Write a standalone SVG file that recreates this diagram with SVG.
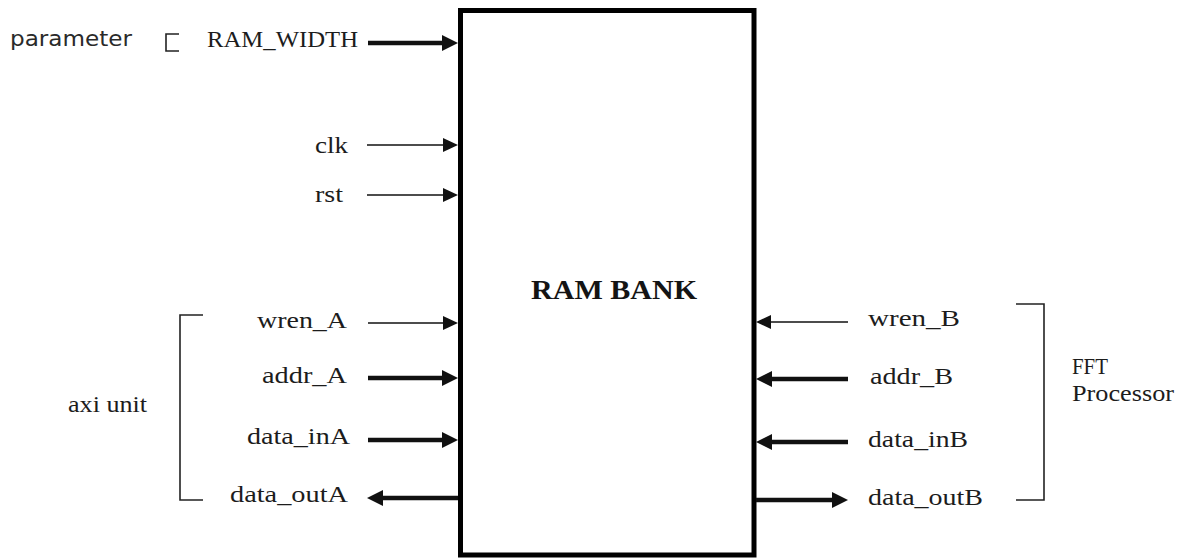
<svg xmlns="http://www.w3.org/2000/svg" width="1179" height="558" viewBox="0 0 1179 558">
<style>
.lbl{font-family:"Liberation Serif","Times New Roman",serif;font-size:24px;fill:#1c1c1c}
.sm{font-size:23px}
.sans{font-family:"DejaVu Sans","Noto Sans",sans-serif;font-size:22px;fill:#2a2a2a}
.title{font-family:"Liberation Serif","Times New Roman",serif;font-size:28px;font-weight:bold;fill:#141414}
.thin{stroke:#111;stroke-width:1.6;fill:none}
.thick{stroke:#111;stroke-width:4.5;fill:none}
.brk{stroke:#222;stroke-width:1.6;fill:none}
</style>
<defs>
<marker id="ahThick" markerUnits="userSpaceOnUse" viewBox="0 0 16 16" refX="4" refY="8" markerWidth="16" markerHeight="16" orient="auto"><path d="M0,0 L16,8 L0,16 z" fill="#111"/></marker>
<marker id="ahThin" markerUnits="userSpaceOnUse" viewBox="0 0 15 14" refX="4" refY="7" markerWidth="15" markerHeight="14" orient="auto"><path d="M0,0 L15,7 L0,14 z" fill="#111"/></marker>
</defs>
<rect width="1179" height="558" fill="#fff"/>

<g id="ram_bank">
<rect x="460.5" y="10.5" width="293.5" height="544.5" fill="#fff" stroke="#000" stroke-width="5"/>
<text class="title" x="531" y="299" textLength="166" lengthAdjust="spacingAndGlyphs">RAM BANK</text>
</g>

<g id="parameter">
<text class="sans" x="10" y="46" textLength="122" lengthAdjust="spacingAndGlyphs">parameter</text>
<polyline class="brk" points="179,34 166,34 166,51 179,51"/>
</g>

<g id="axi_unit">
<polyline class="brk" points="203,315 180,315 180,500 203,500"/>
<text class="lbl" x="68" y="412" textLength="79" lengthAdjust="spacingAndGlyphs">axi unit</text>
</g>

<g id="fft_processor">
<polyline class="brk" points="1016,304 1044,304 1044,500 1016,500"/>
<text class="lbl sm" x="1072" y="374" textLength="36" lengthAdjust="spacingAndGlyphs">FFT</text>
<text class="lbl sm" x="1072" y="401" textLength="102" lengthAdjust="spacingAndGlyphs">Processor</text>
</g>

<g id="port_labels">
<text class="lbl" x="207" y="47" textLength="151" lengthAdjust="spacingAndGlyphs">RAM_WIDTH</text>
<text class="lbl" x="315" y="153" textLength="33" lengthAdjust="spacingAndGlyphs">clk</text>
<text class="lbl" x="315" y="202" textLength="28" lengthAdjust="spacingAndGlyphs">rst</text>
<text class="lbl" x="257" y="328" textLength="90" lengthAdjust="spacingAndGlyphs">wren_A</text>
<text class="lbl" x="262" y="383" textLength="85" lengthAdjust="spacingAndGlyphs">addr_A</text>
<text class="lbl" x="247" y="444" textLength="103" lengthAdjust="spacingAndGlyphs">data_inA</text>
<text class="lbl" x="230" y="502" textLength="118" lengthAdjust="spacingAndGlyphs">data_outA</text>
<text class="lbl" x="868" y="326" textLength="92" lengthAdjust="spacingAndGlyphs">wren_B</text>
<text class="lbl" x="870" y="384" textLength="83" lengthAdjust="spacingAndGlyphs">addr_B</text>
<text class="lbl" x="868" y="447" textLength="100" lengthAdjust="spacingAndGlyphs">data_inB</text>
<text class="lbl" x="868" y="505" textLength="115" lengthAdjust="spacingAndGlyphs">data_outB</text>
</g>

<g id="connectors">
<line class="thick" x1="368" y1="43" x2="446" y2="43" marker-end="url(#ahThick)"/>
<line class="thin" x1="367" y1="145" x2="447" y2="145" marker-end="url(#ahThin)"/>
<line class="thin" x1="367" y1="195" x2="447" y2="195" marker-end="url(#ahThin)"/>
<line class="thin" x1="368" y1="323" x2="447" y2="323" marker-end="url(#ahThin)"/>
<line class="thick" x1="368" y1="378" x2="446" y2="378" marker-end="url(#ahThick)"/>
<line class="thick" x1="368" y1="440" x2="446" y2="440" marker-end="url(#ahThick)"/>
<line class="thick" x1="458" y1="498" x2="379" y2="498" marker-end="url(#ahThick)"/>
<line class="thin" x1="848" y1="322" x2="767" y2="322" marker-end="url(#ahThin)"/>
<line class="thick" x1="848" y1="379" x2="768" y2="379" marker-end="url(#ahThick)"/>
<line class="thick" x1="848" y1="442" x2="768" y2="442" marker-end="url(#ahThick)"/>
<line class="thick" x1="756" y1="500" x2="836" y2="500" marker-end="url(#ahThick)"/>
</g>
</svg>
